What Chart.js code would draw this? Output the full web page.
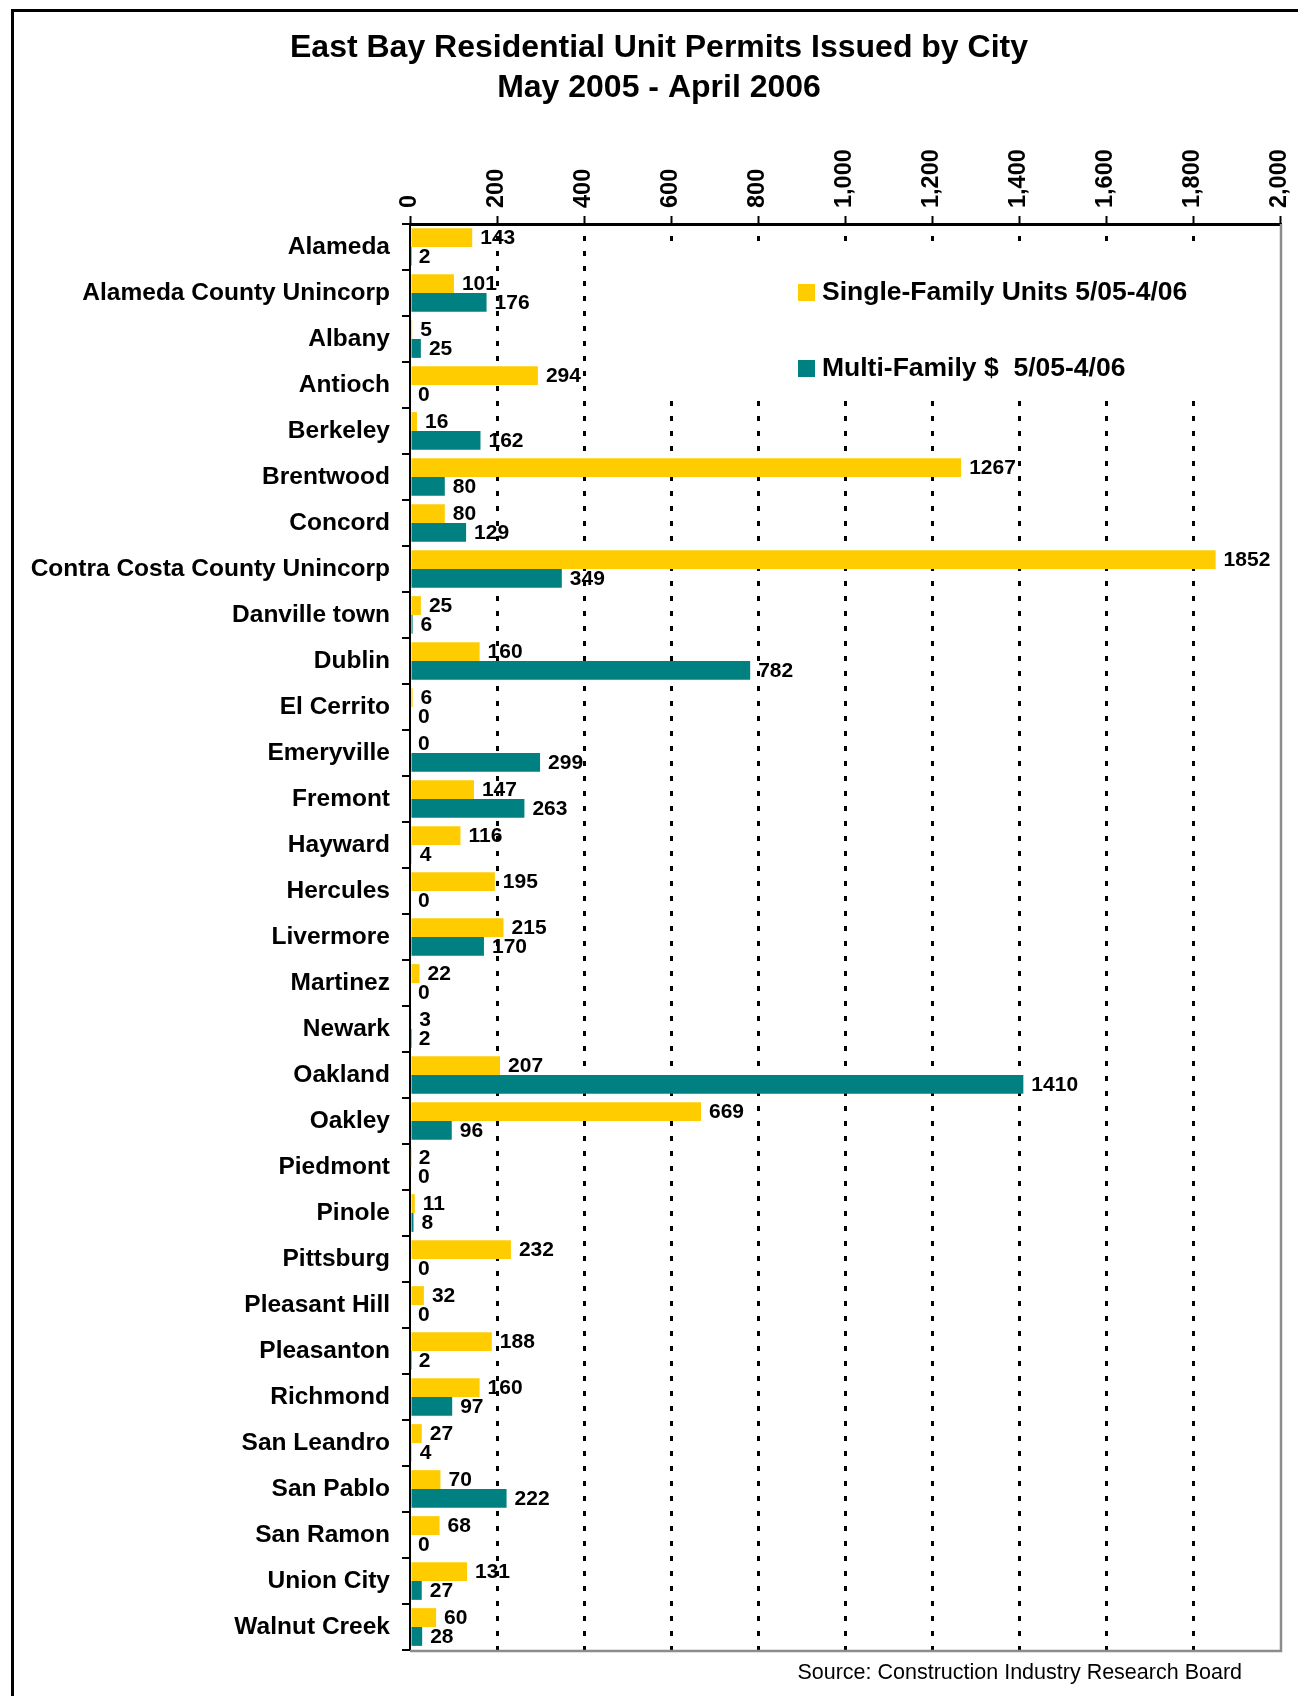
<!DOCTYPE html>
<html>
<head>
<meta charset="utf-8">
<title>East Bay Residential Unit Permits Issued by City</title>
<script src="https://cdn.jsdelivr.net/npm/chart.js@4/dist/chart.umd.min.js"></script>
<style>
body { margin: 0; background: #fff; }
#wrap { width: 1298px; height: 1696px; }
</style>
</head>
<body>
<div id="wrap"><canvas id="barChart1" width="1298" height="1696"></canvas></div>
<script>
var cities = ["Alameda", "Alameda County Unincorp", "Albany", "Antioch", "Berkeley", "Brentwood", "Concord",
    "Contra Costa County Unincorp", "Danville town", "Dublin", "El Cerrito", "Emeryville", "Fremont", "Hayward",
    "Hercules", "Livermore", "Martinez", "Newark", "Oakland", "Oakley", "Piedmont", "Pinole", "Pittsburg",
    "Pleasant Hill", "Pleasanton", "Richmond", "San Leandro", "San Pablo", "San Ramon", "Union City", "Walnut Creek"]
//data collected
var singleFamily = [143, 101, 5, 294, 16, 1267, 80, 1852, 25, 160, 6, 0, 147, 116, 195, 215, 22, 3, 207, 669, 2, 11, 232, 32, 188, 160, 27, 70, 68, 131, 60]
var multiFamily = [2, 176, 25, 0, 162, 80, 129, 349, 6, 782, 0, 299, 263, 4, 0, 170, 0, 2, 1410, 96, 0, 8, 0, 0, 2, 97, 4, 222, 0, 27, 28]
var seriesNames = ["Single-Family Units 5/05-4/06", "Multi-Family $  5/05-4/06"]
var seriesColors = ["#ffcc00", "#008080"]
var tickMax = 2000
var tickStep = 200
var tableName = ["East Bay Residential Unit Permits Issued by City", "May 2005 - April 2006"]
var sourceNote = "Source: Construction Industry Research Board"

var fontFam = "'Liberation Sans', Arial, sans-serif"

var pagePlugin = {
    id: "page",
    afterLayout: function (chart) {
        // title sits a little right of the page centre
        if (chart.titleBlock) {
            chart.titleBlock.left += 9
            chart.titleBlock.right += 9
        }
    },
    beforeDraw: function (chart) {
        var ctx = chart.ctx
        ctx.save()
        ctx.fillStyle = "#fff"
        ctx.fillRect(0, 0, chart.width, chart.height)
        // outer frame, only left and top show
        ctx.strokeStyle = "#000"
        ctx.lineWidth = 3
        ctx.beginPath()
        ctx.moveTo(12.5, chart.height)
        ctx.lineTo(12.5, 10.5)
        ctx.lineTo(chart.width, 10.5)
        ctx.stroke()
        ctx.restore()
    },
    afterDatasetsDraw: function (chart) {
        var ctx = chart.ctx
        var area = chart.chartArea
        ctx.save()
        // grey right/bottom edge of the plot
        ctx.strokeStyle = "#8c8c8c"
        ctx.lineWidth = 2.5
        ctx.beginPath()
        ctx.moveTo(area.left, area.bottom + 1)
        ctx.lineTo(area.right + 1, area.bottom + 1)
        ctx.lineTo(area.right + 1, area.top)
        ctx.stroke()

        // value labels
        ctx.fillStyle = "#000"
        ctx.font = "bold 21px " + fontFam
        ctx.textAlign = "left"
        ctx.textBaseline = "middle"
        chart.data.datasets.forEach(function (ds, i) {
            var meta = chart.getDatasetMeta(i)
            meta.data.forEach(function (bar, j) {
                ctx.fillText(String(ds.data[j]), bar.x + 8, bar.y + 1)
            })
        })

        // legend box inside the plot
        ctx.fillStyle = "#fff"
        ctx.fillRect(633, 251, area.right - 636, 150)
        ctx.font = "bold 26.5px " + fontFam
        var rows = [292, 368]
        chart.data.datasets.forEach(function (ds, i) {
            ctx.fillStyle = ds.backgroundColor
            ctx.fillRect(798, rows[i] - 8, 17, 17)
            ctx.fillStyle = "#000"
            ctx.fillText(ds.label, 822, rows[i] + 1)
        })

        // source note
        ctx.font = "21.5px " + fontFam
        ctx.textAlign = "right"
        ctx.fillText(sourceNote, 1242, 1673)
        ctx.restore()
    }
}

var myChart1 = document.getElementById("barChart1").getContext("2d")
var chart1 = new Chart(myChart1, {
    type: "bar",
    data: {
        labels: cities,
        datasets: [{
            label: seriesNames[0],
            data: singleFamily,
            backgroundColor: seriesColors[0]
        }, {
            label: seriesNames[1],
            data: multiFamily,
            backgroundColor: seriesColors[1]
        }]
    },
    options: {
        indexAxis: "y",
        responsive: false,
        animation: false,
        layout: {
            padding: { left: 20, right: 18, top: 0, bottom: 46 }
        },
        datasets: {
            bar: { categoryPercentage: 0.82, barPercentage: 1.0 }
        },
        scales: {
            x: {
                position: "top",
                min: 0,
                max: tickMax,
                afterFit: function (scale) { scale.height = 100 },
                ticks: {
                    stepSize: tickStep,
                    minRotation: 90,
                    maxRotation: 90,
                    padding: 8,
                    labelOffset: 28,
                    color: "#000",
                    font: { family: fontFam, size: 23.5, weight: "bold" },
                    callback: function (v) { return Number(v).toLocaleString("en-US") }
                },
                grid: {
                    color: function (c) {
                        return (c.index === 0 || c.tick && c.tick.value === tickMax) ? "rgba(0,0,0,0)" : "#000"
                    },
                    lineWidth: 3,
                    tickColor: "#000",
                    tickWidth: 2,
                    tickLength: 8
                },
                border: { display: true, color: "#000", width: 3, dash: [5, 10], dashOffset: 5 }
            },
            y: {
                afterFit: function (scale) { scale.width = 390 },
                ticks: {
                    padding: 12,
                    color: "#000",
                    font: { family: fontFam, size: 24.5, weight: "bold" }
                },
                grid: {
                    drawOnChartArea: false,
                    color: "#000",
                    lineWidth: 2,
                    tickLength: 8
                },
                border: { display: true, color: "#000", width: 2 }
            }
        },
        plugins: {
            title: {
                display: true,
                text: tableName,
                color: "#000",
                font: { family: fontFam, size: 32, weight: "bold", lineHeight: 1.25 },
                padding: { top: 28, bottom: 16 }
            },
            legend: {
                display: false
            },
            tooltip: { enabled: false }
        }
    },
    plugins: [pagePlugin]
})
</script>
</body>
</html>
